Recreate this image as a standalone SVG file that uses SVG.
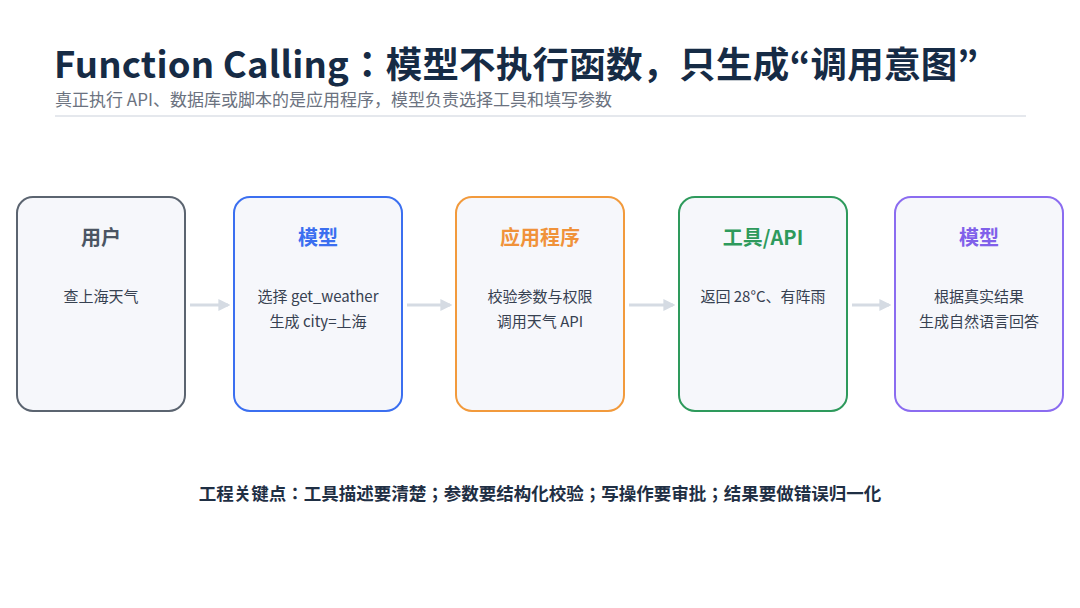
<svg xmlns="http://www.w3.org/2000/svg" width="1080" height="608" viewBox="0 0 1080 608">
<defs>
<style>
text{font-family:"Noto Sans CJK JP","Noto Sans CJK SC","Noto Sans",sans-serif}
.title{font-size:36.5px;font-weight:700;fill:#162b45}
.sub{font-size:17px;fill:#6b7280}
.box{fill:#f6f7fb;stroke-width:2}
.head{font-size:20px;font-weight:700;text-anchor:middle}
.body{font-size:15px;fill:#374151;text-anchor:middle}
.conn{stroke:#d5dbe3;stroke-width:3;fill:none}
.note{font-size:17.5px;font-weight:700;fill:#1f2f44;text-anchor:middle}
</style>
<marker id="ah" viewBox="0 0 10 10" refX="8" refY="5" markerWidth="4" markerHeight="4" orient="auto">
<path d="M0,0 L10,5 L0,10 z" fill="#d5dbe3"/>
</marker>
</defs>
<rect width="1080" height="608" fill="#ffffff"/>
<text class="title" x="54" y="78" letter-spacing="0.2">Function Calling：模型不执行函数，只生成“调用意图”</text>
<text class="sub" x="55" y="106">真正执行 API、数据库或脚本的是应用程序，模型负责选择工具和填写参数</text>
<line x1="55" y1="116" x2="1026" y2="116" stroke="#dde1e7" stroke-width="1.5"/>
<g id="connectors">
<line class="conn" x1="190" y1="305" x2="228" y2="305" marker-end="url(#ah)"/>
<line class="conn" x1="407" y1="305" x2="450" y2="305" marker-end="url(#ah)"/>
<line class="conn" x1="629" y1="305" x2="673" y2="305" marker-end="url(#ah)"/>
<line class="conn" x1="852" y1="305" x2="889" y2="305" marker-end="url(#ah)"/>
</g>
<g id="user">
<rect class="box" x="17" y="197" width="168" height="214" rx="16" stroke="#5b6470"/>
<text class="head" x="101" y="245" fill="#4b5563">用户</text>
<text class="body" x="101" y="302">查上海天气</text>
</g>
<g id="model1">
<rect class="box" x="234" y="197" width="168" height="214" rx="16" stroke="#3b6ff0"/>
<text class="head" x="318" y="245" fill="#3b6ff0">模型</text>
<text class="body" x="318" y="302">选择 get_weather</text>
<text class="body" x="318" y="327">生成 city=上海</text>
</g>
<g id="app">
<rect class="box" x="456" y="197" width="168" height="214" rx="16" stroke="#f29a3c"/>
<text class="head" x="540" y="245" fill="#f0923a">应用程序</text>
<text class="body" x="540" y="302">校验参数与权限</text>
<text class="body" x="540" y="327">调用天气 API</text>
</g>
<g id="tool">
<rect class="box" x="679" y="197" width="168" height="214" rx="16" stroke="#2e9a5c"/>
<text class="head" x="763" y="245" fill="#2e9a5c">工具/API</text>
<text class="body" x="763" y="302">返回 28°C、有阵雨</text>
</g>
<g id="model2">
<rect class="box" x="895" y="197" width="168" height="214" rx="16" stroke="#8b6cf0"/>
<text class="head" x="979" y="245" fill="#8060ea">模型</text>
<text class="body" x="979" y="302">根据真实结果</text>
<text class="body" x="979" y="327">生成自然语言回答</text>
</g>
<text class="note" x="540" y="500">工程关键点：工具描述要清楚；参数要结构化校验；写操作要审批；结果要做错误归一化</text>
</svg>
